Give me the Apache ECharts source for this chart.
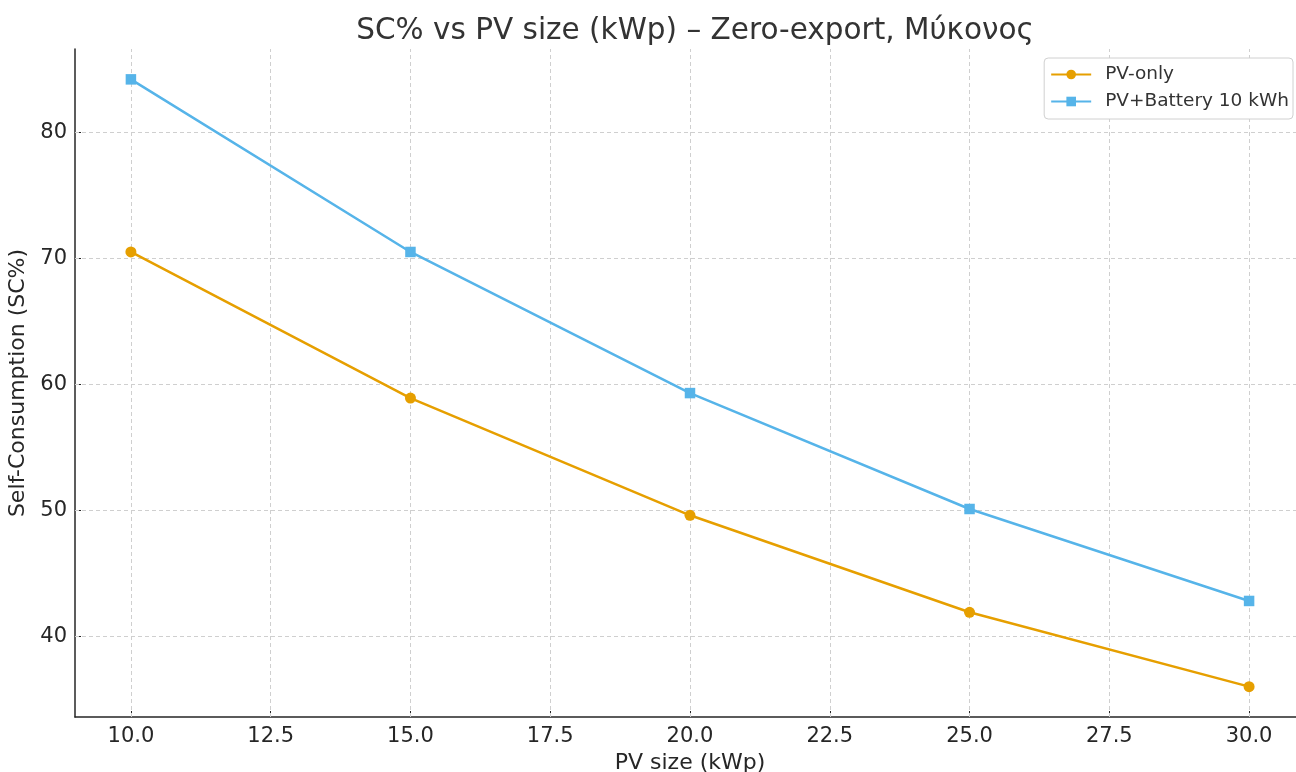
<!DOCTYPE html>
<html><head><meta charset="utf-8">
<script src="https://cdn.jsdelivr.net/npm/echarts@6/dist/echarts.min.js"></script>
<style>html,body{margin:0;padding:0;background:#fff}#c{width:1296px;height:772px}</style>
</head><body><div id="c"></div>
<script>
const pvSizes = [10, 15, 20, 25, 30];
const pvOnly = [70.5, 58.9, 49.6, 41.9, 36.0];
const pvBattery = [84.2, 70.5, 59.3, 50.1, 42.8];
const xTicks = [10, 12.5, 15, 17.5, 20, 22.5, 25, 27.5, 30];
const yTicks = [40, 50, 60, 70, 80];

const font = 'DejaVu Sans';
const txt = '#262626';
const chart = echarts.init(document.getElementById('c'), null, {renderer: 'canvas'});
const gridLineStyle = {color: '#cfcfcf', type: [4, 3], width: 1};
chart.setOption({
  animation: false,
  backgroundColor: '#fff',
  title: {
    text: 'SC% vs PV size (kWp) – Zero-export, Μύκονος',
    left: 690, top: 11, textAlign: 'center',
    textStyle: {fontFamily: font, fontSize: 29.5, fontWeight: 'normal', color: '#333'}
  },
  legend: {
    right: 3, top: 58, orient: 'vertical', itemGap: 8,
    itemWidth: 40, itemHeight: 12,
    padding: [7, 4, 8, 6],
    borderColor: '#d0d0d0', borderWidth: 1, borderRadius: 4,
    backgroundColor: '#fff',
    textStyle: {fontFamily: font, fontSize: 18.5, color: '#333', padding: [0, 0, 0, 9]},
    data: ['PV-only', 'PV+Battery 10 kWh']
  },
  grid: {left: 75, top: 49, width: 1230, height: 668, outerBoundsMode: 'none', containLabel: false},
  xAxis: {
    type: 'value', min: 9, max: 31,
    name: 'PV size (kWp)', nameLocation: 'middle', nameGap: 35,
    nameTextStyle: {fontFamily: font, fontSize: 22, color: txt},
    axisLine: {show: true, lineStyle: {color: '#262626', width: 1.5}},
    axisTick: {show: true, inside: true, length: 6, customValues: xTicks, lineStyle: {color: '#262626'}},
    axisLabel: {customValues: xTicks, fontFamily: font, fontSize: 21, color: txt, margin: 9,
      formatter: v => v.toFixed(1)},
    splitLine: {show: false}
  },
  yAxis: {
    type: 'value', min: 33.59, max: 86.61,
    name: 'Self-Consumption (SC%)', nameLocation: 'middle', nameGap: 41, nameRotate: 90,
    nameTextStyle: {fontFamily: font, fontSize: 22, color: txt},
    axisLine: {show: true, lineStyle: {color: '#262626', width: 1.5}},
    axisTick: {show: true, inside: true, length: 6, customValues: yTicks, lineStyle: {color: '#262626'}},
    axisLabel: {customValues: yTicks, fontFamily: font, fontSize: 21, color: txt, margin: 8},
    splitLine: {show: false}
  },
  series: [
    {
      name: 'PV-only', type: 'line',
      data: pvSizes.map((x, i) => [x, pvOnly[i]]),
      symbol: 'circle', symbolSize: 11,
      lineStyle: {color: '#E69F00', width: 2.5},
      itemStyle: {color: '#E69F00'},
      z: 3,
      markLine: {
        silent: true, symbol: 'none', label: {show: false},
        lineStyle: gridLineStyle,
        data: xTicks.map(v => ({xAxis: v})).concat(yTicks.map(v => ({yAxis: v}))),
        z: 1
      }
    },
    {
      name: 'PV+Battery 10 kWh', type: 'line',
      data: pvSizes.map((x, i) => [x, pvBattery[i]]),
      symbol: 'rect', symbolSize: 10.5,
      lineStyle: {color: '#56B4E9', width: 2.5},
      itemStyle: {color: '#56B4E9'},
      z: 3
    }
  ]
});
</script></body></html>
